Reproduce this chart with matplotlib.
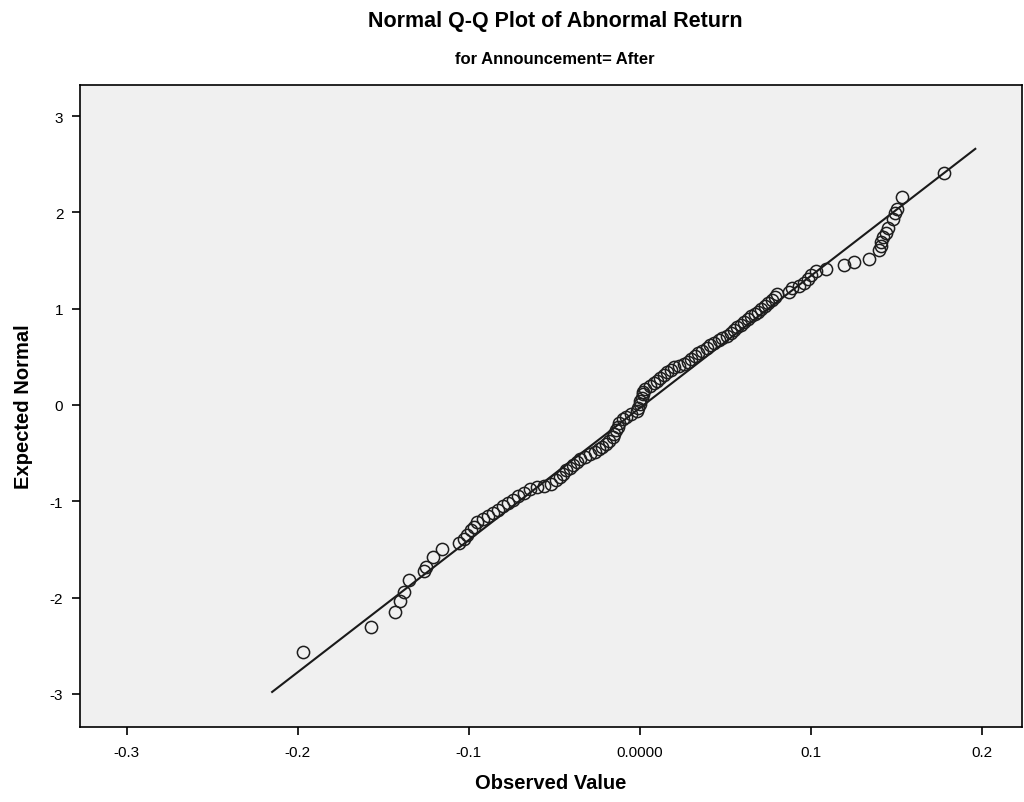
import matplotlib
matplotlib.use("Agg")
import matplotlib.pyplot as plt

plt.rcParams['font.family'] = ['Liberation Sans', 'DejaVu Sans']

observed = [
    -0.197, -0.157, -0.143, -0.140, -0.138, -0.135, -0.126, -0.125, -0.121, -0.116,
    -0.106, -0.103, -0.101, -0.099, -0.097, -0.095, -0.092, -0.089, -0.086, -0.083,
    -0.080, -0.077, -0.074, -0.071, -0.068, -0.064, -0.060, -0.056, -0.052, -0.049,
    -0.047, -0.045, -0.043, -0.041, -0.039, -0.037, -0.035, -0.032, -0.029, -0.026,
    -0.024, -0.022, -0.020, -0.018, -0.016, -0.015, -0.014, -0.013, -0.012, -0.010,
    -0.008, -0.005, -0.002, -0.001, 0.000, 0.000, 0.001, 0.002, 0.002, 0.003,
    0.006, 0.008, 0.010, 0.012, 0.014, 0.016, 0.018, 0.020, 0.023, 0.026,
    0.028, 0.030, 0.032, 0.034, 0.036, 0.039, 0.041, 0.043, 0.046, 0.048,
    0.051, 0.053, 0.055, 0.057, 0.059, 0.061, 0.063, 0.065, 0.067, 0.069,
    0.071, 0.073, 0.075, 0.077, 0.079, 0.080, 0.087, 0.089, 0.093, 0.096,
    0.098, 0.100, 0.103, 0.109, 0.119, 0.125, 0.134, 0.140, 0.141, 0.141,
    0.142, 0.144, 0.145, 0.148, 0.149, 0.150, 0.153, 0.178,
]
expected = [
    -2.56, -2.31, -2.15, -2.04, -1.94, -1.82, -1.72, -1.68, -1.58, -1.50,
    -1.43, -1.39, -1.35, -1.30, -1.27, -1.22, -1.18, -1.15, -1.12, -1.09,
    -1.05, -1.02, -0.99, -0.95, -0.91, -0.87, -0.85, -0.84, -0.82, -0.78,
    -0.75, -0.72, -0.68, -0.65, -0.62, -0.59, -0.56, -0.54, -0.51, -0.49,
    -0.46, -0.44, -0.40, -0.37, -0.33, -0.30, -0.26, -0.23, -0.19, -0.15,
    -0.12, -0.09, -0.06, -0.03, 0.01, 0.04, 0.07, 0.11, 0.14, 0.17,
    0.20, 0.23, 0.25, 0.28, 0.31, 0.34, 0.36, 0.39, 0.41, 0.43,
    0.45, 0.48, 0.51, 0.54, 0.56, 0.59, 0.62, 0.64, 0.67, 0.70,
    0.72, 0.75, 0.78, 0.81, 0.83, 0.86, 0.89, 0.92, 0.94, 0.97,
    1.00, 1.03, 1.06, 1.09, 1.12, 1.15, 1.17, 1.21, 1.24, 1.27,
    1.31, 1.35, 1.39, 1.41, 1.45, 1.48, 1.52, 1.61, 1.65, 1.69,
    1.74, 1.79, 1.84, 1.93, 1.99, 2.04, 2.16, 2.41,
]

# Reference line endpoints
line_x = [-0.215, 0.196]
line_y = [-2.98, 2.66]

x_ticks = [-0.3, -0.2, -0.1, 0.0, 0.1, 0.2]
x_tick_labels = ["-0.3", "-0.2", "-0.1", "0.0000", "0.1", "0.2"]
y_ticks = [-3, -2, -1, 0, 1, 2, 3]
y_tick_labels = ["-3", "-2", "-1", "0", "1", "2", "3"]

fig = plt.figure(figsize=(10.24, 8.03), dpi=100)
ax = fig.add_axes([80 / 1024, 1 - 728 / 803, 942 / 1024, (728 - 86) / 803])
ax.set_facecolor("#f0f0f0")

ax.plot(line_x, line_y, color="#1a1a1a", lw=1.5, zorder=2)
ax.plot(observed, expected, linestyle="none", marker="o", markersize=8.8,
        markerfacecolor="none", markeredgecolor="#1e1e1e", markeredgewidth=1.1, zorder=3)

ax.set_xlim(-0.3273, 0.2233)
ax.set_ylim(-3.344, 3.323)
ax.set_xticks(x_ticks)
ax.set_xticklabels(x_tick_labels)
ax.set_yticks(y_ticks)
ax.set_yticklabels(y_tick_labels)
ax.tick_params(axis="both", direction="out", length=6, width=1.2, labelsize=11,
               colors="#000000", pad=6)
ax.tick_params(axis="x", pad=7)
for s in ax.spines.values():
    s.set_linewidth(1.2)
    s.set_color("#000000")

ax.set_xlabel("Observed Value", fontsize=14.5, fontweight="bold", labelpad=10)
ax.set_ylabel("Expected Normal", fontsize=14.5, fontweight="bold", labelpad=12)

fig.text(0.542, 1 - 22 / 803, "Normal Q-Q Plot of Abnormal Return", ha="center", va="center",
         fontsize=15.5, fontweight="bold")
fig.text(0.542, 1 - 59 / 803, "for Announcement= After", ha="center", va="center",
         fontsize=12, fontweight="bold")

fig.savefig("out.png", dpi=100)
